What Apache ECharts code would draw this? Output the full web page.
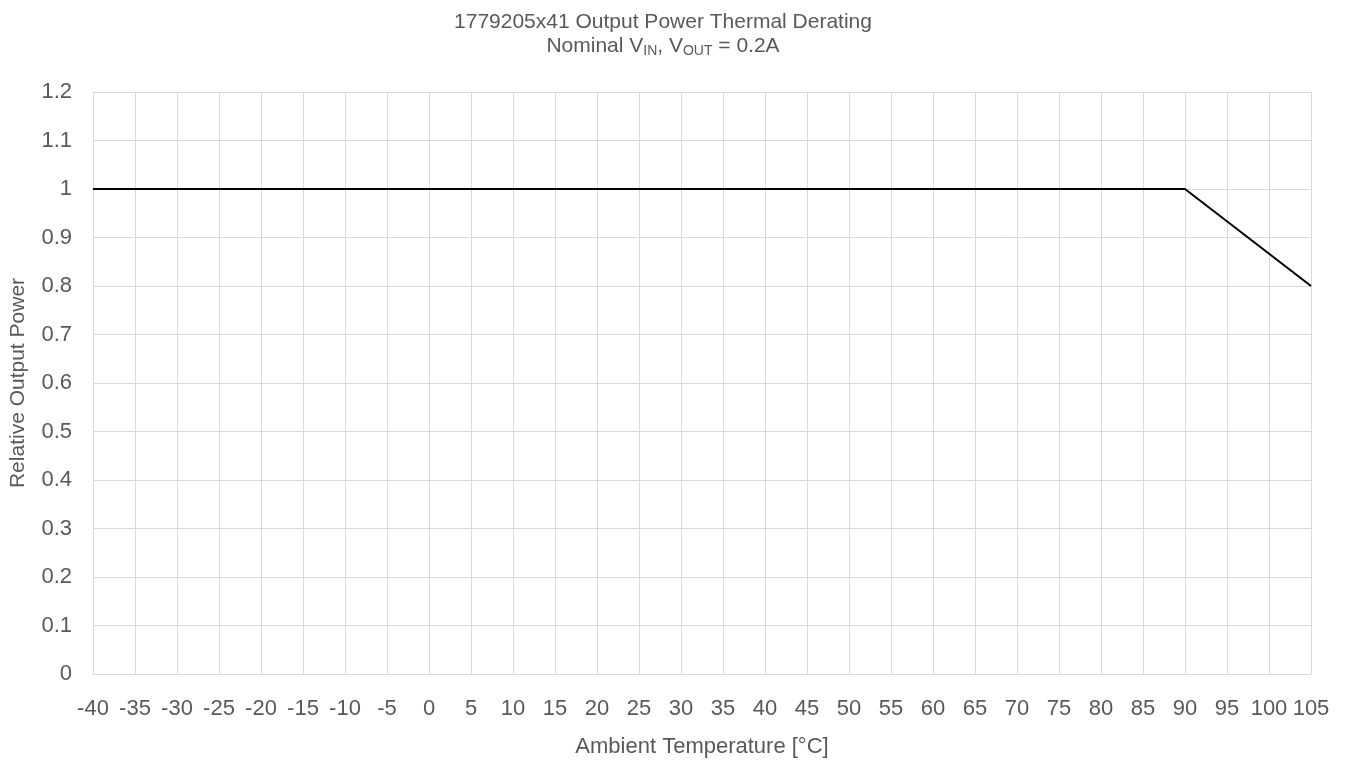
<!DOCTYPE html>
<html>
<head>
<meta charset="utf-8">
<script src="https://cdn.jsdelivr.net/npm/echarts@6/dist/echarts.min.js"></script>
<style>
  html, body { margin: 0; padding: 0; background: #fff; }
  #chart { width: 1349px; height: 760px; }
</style>
</head>
<body>
<div id="chart"></div>
<script>
// data
var temps = [-40, 90, 105]
var power = [1, 1, 0.8]
var xMin = -40, xMax = 105, xStep = 5
var yMin = 0, yMax = 1.2, yStep = 0.1

var font = '"Liberation Sans", Arial, sans-serif'
var grey = '#595959'

var chart = echarts.init(document.getElementById('chart'))
chart.setOption({
  animation: false,
  title: {
    left: 658,
    textAlign: 'center',
    top: 7,
    itemGap: 1,
    text: '1779205x41 Output Power Thermal Derating',
    textStyle: { fontFamily: font, fontSize: 21, fontWeight: 'normal', color: grey },
    subtext: 'Nominal V{s|IN}, V{s|OUT} = 0.2A',
    subtextStyle: {
      fontFamily: font, fontSize: 21, color: grey,
      rich: {
        s: { fontFamily: font, fontSize: 14, color: grey, verticalAlign: 'bottom', padding: [10, 0, 0, 0] }
      }
    }
  },
  grid: { left: 93, right: 38, top: 92, bottom: 86, outerBoundsMode: 'none' },
  xAxis: {
    type: 'value',
    min: xMin, max: xMax, interval: xStep,
    name: 'Ambient Temperature [°C]',
    nameLocation: 'middle',
    nameGap: 62,
    nameTextStyle: { fontFamily: font, fontSize: 22, color: grey },
    axisLine: { show: true, lineStyle: { color: '#d9d9d9', width: 1 } },
    axisTick: { show: false },
    splitLine: { show: true, lineStyle: { color: '#d9d9d9', width: 1 } },
    axisLabel: { fontFamily: font, fontSize: 22, color: grey, margin: 24, hideOverlap: false, showMinLabel: true, showMaxLabel: true }
  },
  yAxis: {
    type: 'value',
    min: yMin, max: yMax, interval: yStep,
    name: 'Relative Output Power',
    nameLocation: 'middle',
    nameGap: 64,
    nameTextStyle: { fontFamily: font, fontSize: 21, color: grey },
    axisLine: { show: false },
    axisTick: { show: false },
    splitLine: { show: true, lineStyle: { color: '#d9d9d9', width: 1 } },
    axisLabel: {
      fontFamily: font, fontSize: 22, color: grey, margin: 21,
      formatter: function (v) { return String(Math.round(v * 10) / 10) }
    }
  },
  series: [{
    type: 'line',
    data: temps.map(function (t, i) { return [t, power[i]] }),
    symbol: 'none',
    lineStyle: { color: '#000', width: 2 }
  }]
})
</script>
</body>
</html>
